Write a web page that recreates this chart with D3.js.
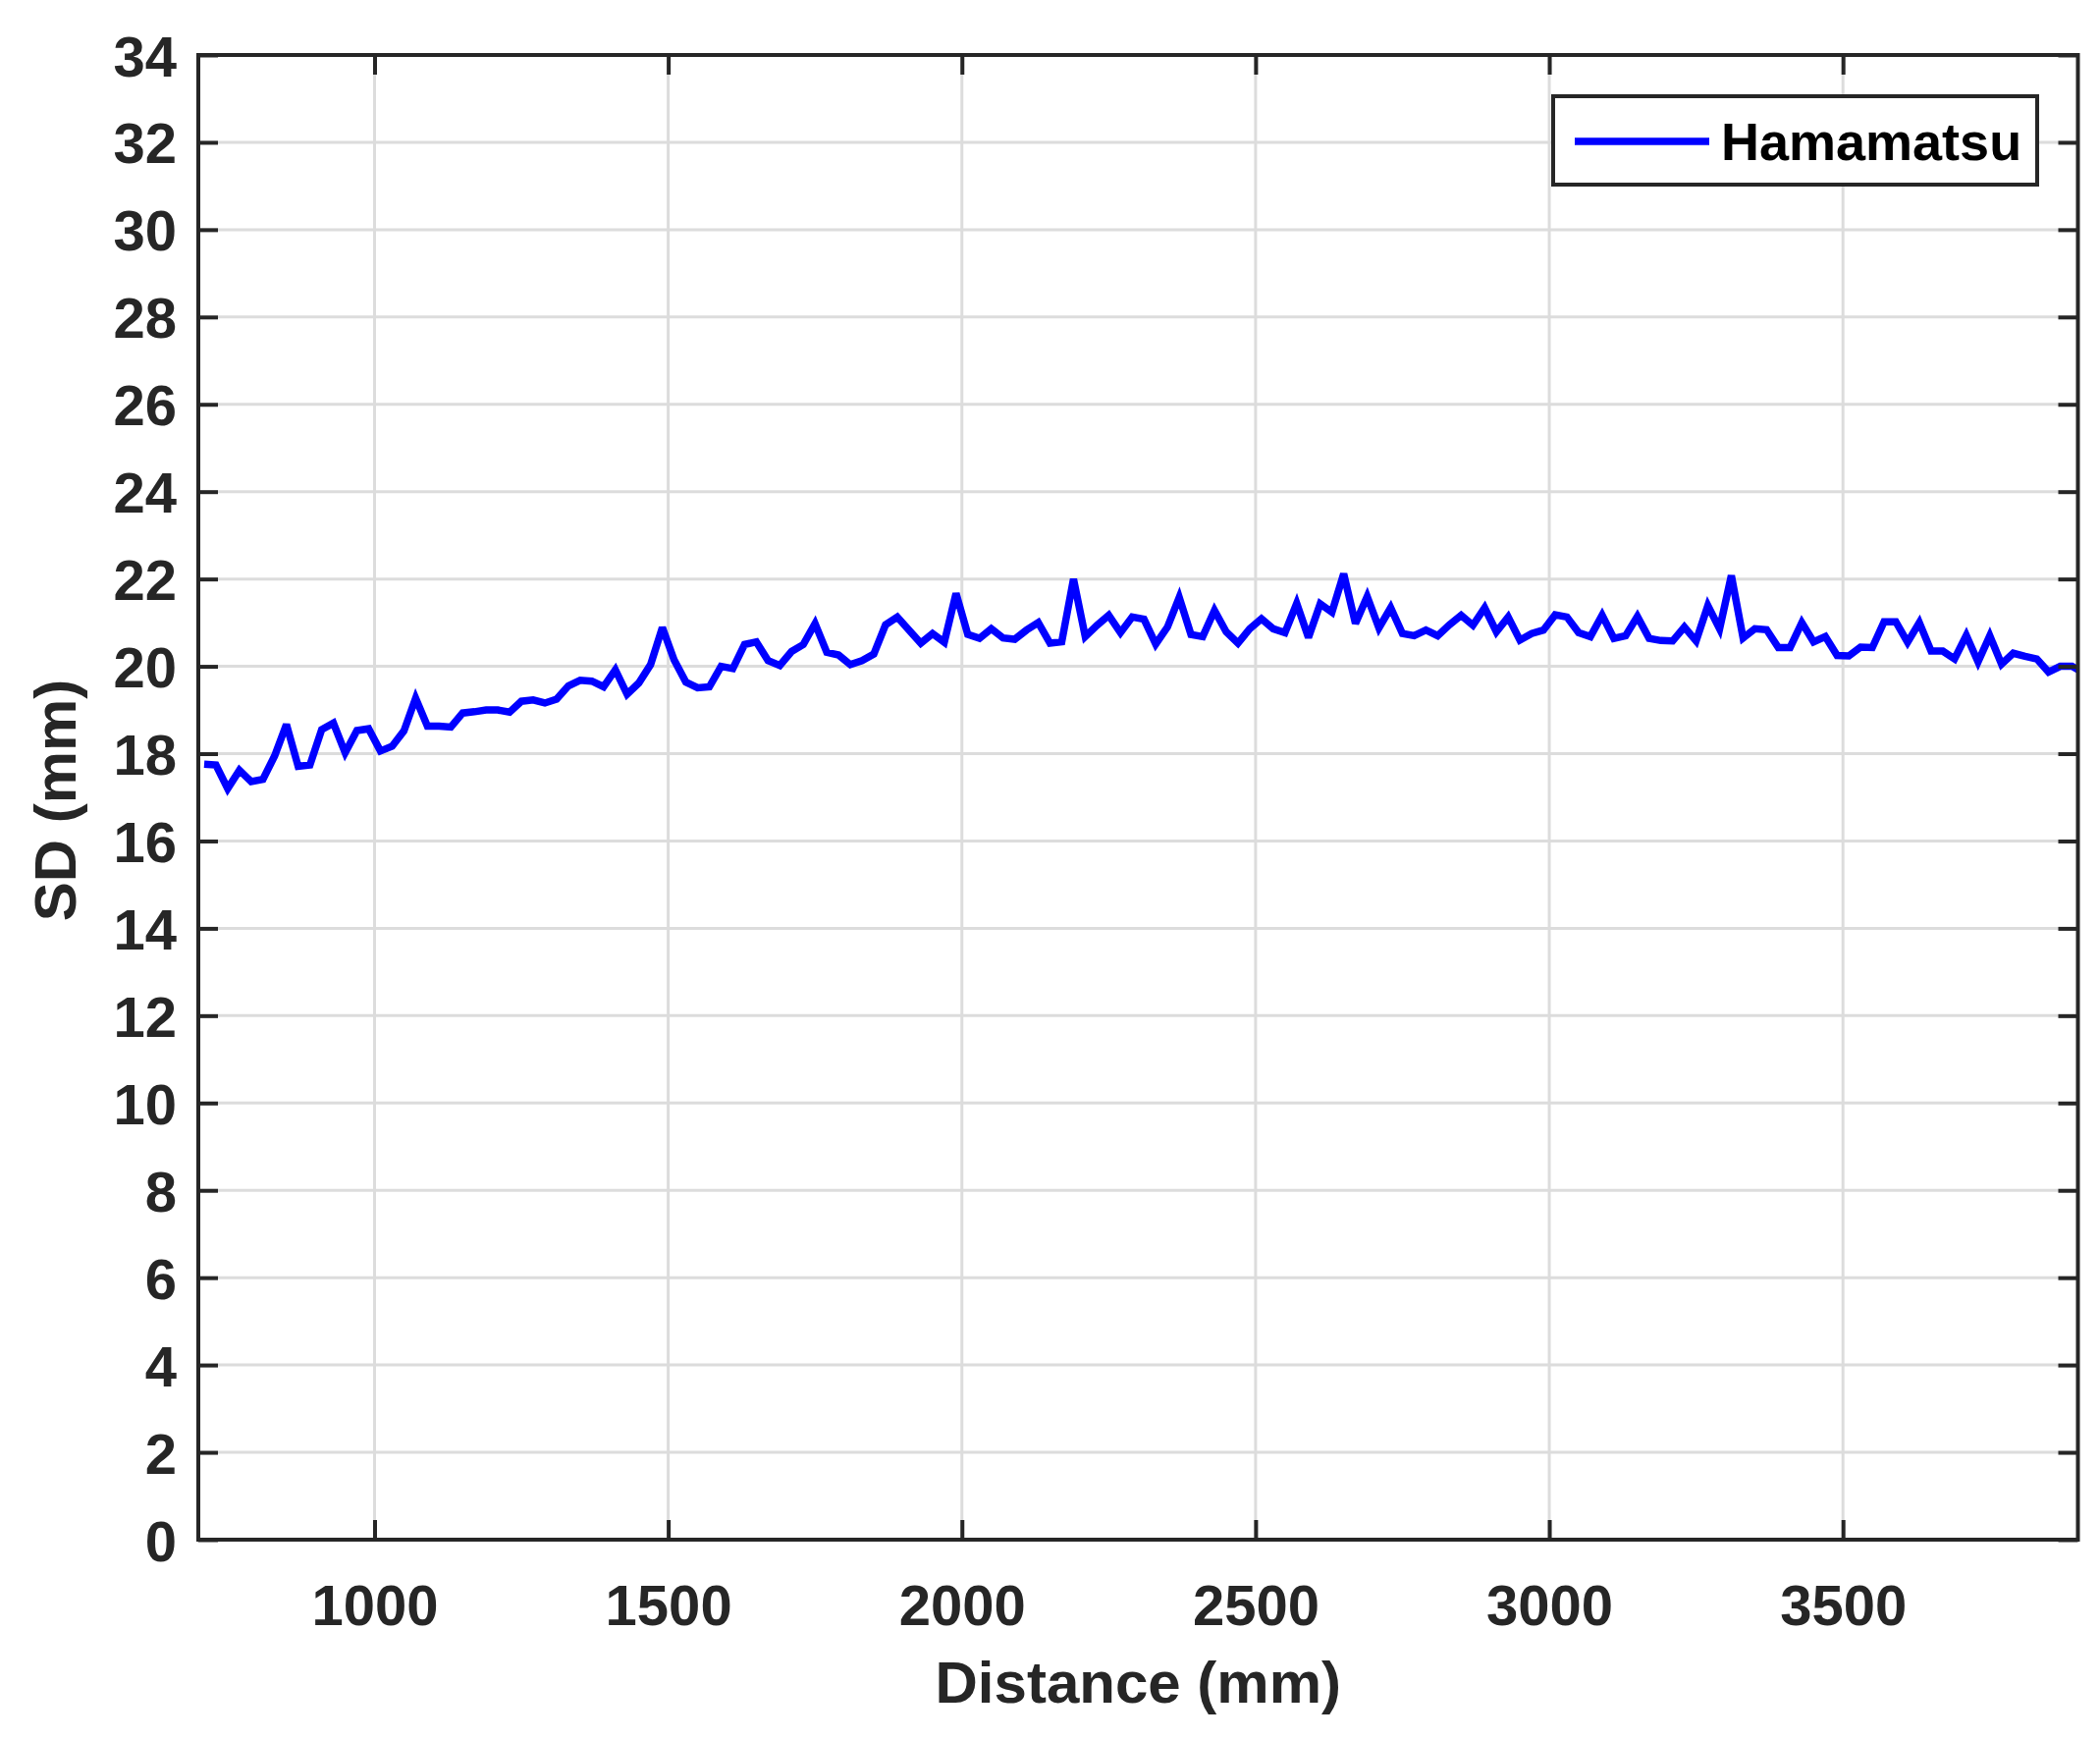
<!DOCTYPE html>
<html>
<head>
<meta charset="utf-8">
<script src="https://cdn.jsdelivr.net/npm/d3@7"></script>
<style>
  html, body { margin: 0; padding: 0; background: #ffffff; }
  svg { display: block; }
  text { font-family: "Liberation Sans", Arial, Helvetica, sans-serif; font-weight: bold; }
</style>
</head>
<body>
<svg id="chart" width="2139" height="1771"></svg>
<script>
// ---------------- data ----------------
const distance = [
  710, 730, 750, 770, 790, 810, 830, 850, 870, 890,
  910, 930, 950, 970, 990, 1010, 1030, 1050, 1070, 1090,
  1110, 1130, 1150, 1170, 1190, 1210, 1230, 1250, 1270, 1290,
  1310, 1330, 1350, 1370, 1390, 1410, 1430, 1450, 1470, 1490,
  1510, 1530, 1550, 1570, 1590, 1610, 1630, 1650, 1670, 1690,
  1710, 1730, 1750, 1770, 1790, 1810, 1830, 1850, 1870, 1890,
  1910, 1930, 1950, 1970, 1990, 2010, 2030, 2050, 2070, 2090,
  2110, 2130, 2150, 2170, 2190, 2210, 2230, 2250, 2270, 2290,
  2310, 2330, 2350, 2370, 2390, 2410, 2430, 2450, 2470, 2490,
  2510, 2530, 2550, 2570, 2590, 2610, 2630, 2650, 2670, 2690,
  2710, 2730, 2750, 2770, 2790, 2810, 2830, 2850, 2870, 2890,
  2910, 2930, 2950, 2970, 2990, 3010, 3030, 3050, 3070, 3090,
  3110, 3130, 3150, 3170, 3190, 3210, 3230, 3250, 3270, 3290,
  3310, 3330, 3350, 3370, 3390, 3410, 3430, 3450, 3470, 3490,
  3510, 3530, 3550, 3570, 3590, 3610, 3630, 3650, 3670, 3690,
  3710, 3730, 3750, 3770, 3790, 3810, 3830, 3850, 3870, 3890,
  3910
];
const sdHamamatsu = [
  17.76, 17.74, 17.20, 17.62, 17.36, 17.41, 17.95, 18.67, 17.71, 17.74,
  18.55, 18.70, 18.02, 18.53, 18.57, 18.06, 18.17, 18.52, 19.27, 18.63,
  18.63, 18.61, 18.93, 18.96, 19.00, 19.00, 18.95, 19.20, 19.23, 19.16,
  19.25, 19.55, 19.68, 19.66, 19.53, 19.92, 19.36, 19.62, 20.04, 20.89,
  20.15, 19.64, 19.51, 19.53, 20.00, 19.95, 20.50, 20.56, 20.13, 20.02,
  20.34, 20.50, 20.98, 20.32, 20.26, 20.04, 20.13, 20.28, 20.95, 21.13,
  20.83, 20.53, 20.75, 20.55, 21.67, 20.73, 20.64, 20.86, 20.65, 20.62,
  20.83, 21.00, 20.53, 20.56, 22.00, 20.68, 20.94, 21.17, 20.77, 21.13,
  21.08, 20.51, 20.90, 21.58, 20.73, 20.68, 21.28, 20.79, 20.53, 20.86,
  21.09, 20.86, 20.77, 21.44, 20.66, 21.43, 21.24, 22.12, 20.98, 21.60,
  20.88, 21.34, 20.75, 20.70, 20.83, 20.70, 20.95, 21.17, 20.94, 21.34,
  20.79, 21.13, 20.60, 20.75, 20.83, 21.18, 21.13, 20.77, 20.68, 21.17,
  20.64, 20.70, 21.14, 20.64, 20.59, 20.58, 20.90, 20.58, 21.39, 20.86,
  22.08, 20.65, 20.86, 20.84, 20.43, 20.43, 21.00, 20.56, 20.68, 20.25,
  20.24, 20.44, 20.43, 21.02, 21.02, 20.55, 21.00, 20.35, 20.35, 20.17,
  20.71, 20.10, 20.70, 20.05, 20.30, 20.23, 20.17, 19.87, 20.00, 20.00,
  19.85
];
const xTicks = [1000, 1500, 2000, 2500, 3000, 3500];
const yTicks = [0, 2, 4, 6, 8, 10, 12, 14, 16, 18, 20, 22, 24, 26, 28, 30, 32, 34];
const seriesName = "Hamamatsu";
const xLabel = "Distance (mm)";
const yLabel = "SD (mm)";

// ---------------- layout ----------------
const plot = { left: 202, right: 2116.5, top: 56, bottom: 1568 };
const axisColor = "#262626";
const gridColor = "#dcdcdc";
const tickLen = 20;

const svg = d3.select("#chart");
svg.append("rect").attr("width", 2139).attr("height", 1771).attr("fill", "#ffffff");

const x = d3.scaleLinear().domain([700, 3900]).range([plot.left, plot.right]);
const y = d3.scaleLinear().domain([0, 34]).range([plot.bottom, plot.top]);

// clip
svg.append("defs").append("clipPath").attr("id", "plotclip")
  .append("rect")
  .attr("x", plot.left).attr("y", plot.top)
  .attr("width", plot.right - plot.left).attr("height", plot.bottom - plot.top);

// grid
const grid = svg.append("g");
grid.selectAll("line.gx").data(xTicks).join("line")
  .attr("x1", d => x(d)).attr("x2", d => x(d))
  .attr("y1", plot.top).attr("y2", plot.bottom)
  .attr("stroke", gridColor).attr("stroke-width", 3);
grid.selectAll("line.gy").data(yTicks).join("line")
  .attr("x1", plot.left).attr("x2", plot.right)
  .attr("y1", d => y(d)).attr("y2", d => y(d))
  .attr("stroke", gridColor).attr("stroke-width", 3);

// data line
const pts = distance.map((d, i) => [d, sdHamamatsu[i]]);
const line = d3.line().x(d => x(d[0])).y(d => y(d[1]));
svg.append("path")
  .attr("clip-path", "url(#plotclip)")
  .attr("d", line(pts))
  .attr("fill", "none")
  .attr("stroke", "#0000ff")
  .attr("stroke-width", 7.5)
  .attr("stroke-linejoin", "miter")
  .attr("stroke-miterlimit", 3);

// axes using d3 axis (inner ticks)
const axBottom = d3.axisBottom(x).tickValues(xTicks).tickSizeInner(-tickLen).tickSizeOuter(0).tickFormat(d3.format("d"));
const axTop = d3.axisTop(x).tickValues(xTicks).tickSizeInner(-tickLen).tickSizeOuter(0).tickFormat("");
const axLeft = d3.axisLeft(y).tickValues(yTicks).tickSizeInner(-tickLen).tickSizeOuter(0).tickFormat(d3.format("d"));
const axRight = d3.axisRight(y).tickValues(yTicks).tickSizeInner(-tickLen).tickSizeOuter(0).tickFormat("");

function styleAxis(g) {
  g.select(".domain").remove();
  g.selectAll(".tick line").attr("stroke", axisColor).attr("stroke-width", 4);
  g.selectAll(".tick text")
    .attr("fill", axisColor)
    .style("font-size", "58px")
    .style("font-family", "'Liberation Sans', Arial, sans-serif")
    .style("font-weight", "bold");
}

const gB = svg.append("g").attr("transform", `translate(0,${plot.bottom})`).call(axBottom).call(styleAxis);
gB.selectAll(".tick text").attr("dy", null).attr("y", 87).attr("dominant-baseline", "auto");
const gT = svg.append("g").attr("transform", `translate(0,${plot.top})`).call(axTop).call(styleAxis);
gT.selectAll(".tick text").remove();
const gL = svg.append("g").attr("transform", `translate(${plot.left},0)`).call(axLeft).call(styleAxis);
gL.selectAll(".tick text").attr("dy", null).attr("x", -22).attr("y", 21).attr("text-anchor", "end");
const gR = svg.append("g").attr("transform", `translate(${plot.right},0)`).call(axRight).call(styleAxis);
gR.selectAll(".tick text").remove();

// box
svg.append("rect")
  .attr("x", plot.left).attr("y", plot.top)
  .attr("width", plot.right - plot.left).attr("height", plot.bottom - plot.top)
  .attr("fill", "none").attr("stroke", axisColor).attr("stroke-width", 4)
  .attr("stroke-linecap", "square");

// axis labels
svg.append("text")
  .attr("x", (plot.left + plot.right) / 2).attr("y", 1734)
  .attr("text-anchor", "middle")
  .attr("fill", axisColor)
  .style("font-size", "60px")
  .text(xLabel);
svg.append("text")
  .attr("transform", `translate(77,${(plot.top + plot.bottom) / 2 + 3}) rotate(-90)`)
  .attr("text-anchor", "middle")
  .attr("fill", axisColor)
  .style("font-size", "60px")
  .text(yLabel);

// legend
const leg = svg.append("g");
leg.append("rect")
  .attr("x", 1582).attr("y", 98)
  .attr("width", 2075 - 1582).attr("height", 188 - 98)
  .attr("fill", "#ffffff").attr("stroke", axisColor).attr("stroke-width", 4);
leg.append("line")
  .attr("x1", 1604).attr("x2", 1741)
  .attr("y1", 144).attr("y2", 144)
  .attr("stroke", "#0000ff").attr("stroke-width", 7.5);
leg.append("text")
  .attr("x", 1753).attr("y", 163)
  .attr("fill", "#000000")
  .style("font-size", "54px")
  .text(seriesName);
</script>
</body>
</html>
